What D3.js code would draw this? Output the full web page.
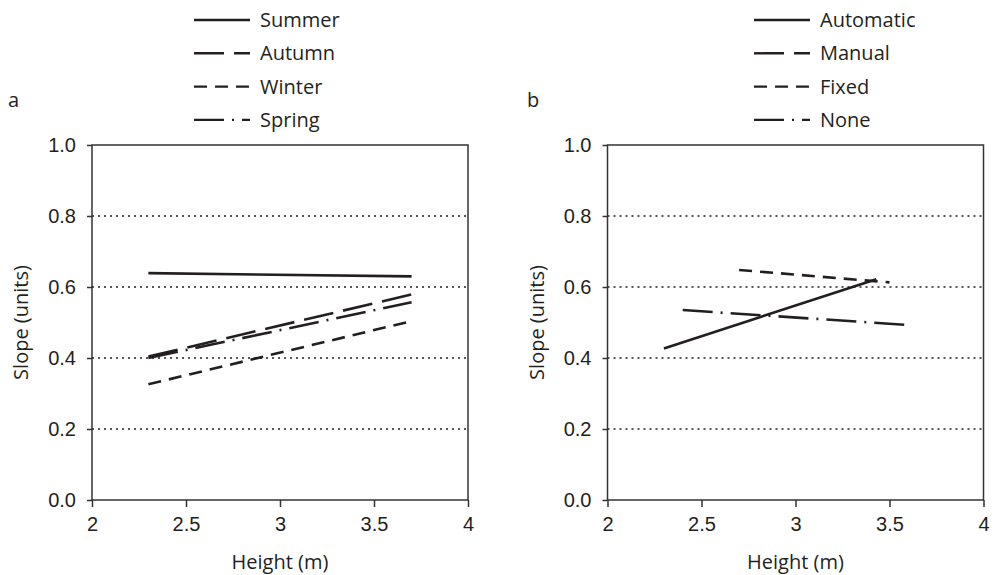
<!DOCTYPE html>
<html>
<head>
<meta charset="utf-8">
<script src="https://cdn.jsdelivr.net/npm/d3@7"></script>
<style>
  body { margin: 0; background: #fff; }
  svg { font-family: "Open Sans", sans-serif; }
</style>
</head>
<body>
<svg width="994" height="575"></svg>
<script>
// values
const seasons = ["Summer", "Autumn", "Winter", "Spring"];
const summer = [[2.3, 0.639], [3.7, 0.630]];
const autumn = [[2.3, 0.404], [3.7, 0.579]];
const winter = [[2.3, 0.326], [3.7, 0.504]];
const spring = [[2.3, 0.400], [3.7, 0.557]];

const modes = ["Automatic", "Manual", "Fixed", "None"];
const automatic = [[2.3, 0.427], [3.43, 0.622]];
const manual = [];
const fixed = [[2.7, 0.648], [3.5, 0.613]];
const none = [[2.4, 0.535], [3.6, 0.493]];

const xTicks = [2, 2.5, 3, 3.5, 4];
const yTicks = [0, 0.2, 0.4, 0.6, 0.8, 1.0];
const gridVals = [0.2, 0.4, 0.6, 0.8];

const dashes = [null, "30,10", "13,8", "30,8,2,8"];
const ink = "#231f20";
const fs = "20px";

const svg = d3.select("svg");

function panel(opts) {
  const x = d3.scaleLinear().domain([2, 4]).range([opts.left, opts.left + 376]);
  const y = d3.scaleLinear().domain([0, 1]).range([500, 145]);
  const g = svg.append("g");

  // dotted gridlines
  g.selectAll(".grid").data(gridVals).enter().append("line")
    .attr("x1", x(2)).attr("x2", x(4))
    .attr("y1", d => y(d)).attr("y2", d => y(d))
    .attr("stroke", ink).attr("stroke-width", 1.3)
    .attr("stroke-dasharray", "2,4");

  // frame
  g.append("rect")
    .attr("x", x(2)).attr("y", y(1))
    .attr("width", x(4) - x(2)).attr("height", y(0) - y(1))
    .attr("fill", "none").attr("stroke", "#333").attr("stroke-width", 1.5);

  const xAxis = d3.axisBottom(x).tickValues(xTicks).tickSize(7).tickPadding(10)
    .tickFormat(d3.format("~g"));
  const yAxis = d3.axisLeft(y).tickValues(yTicks).tickSize(5).tickPadding(11)
    .tickFormat(d3.format(".1f"));

  const gx = g.append("g").attr("transform", "translate(0,500)").call(xAxis);
  const gy = g.append("g").attr("transform", "translate(" + x(2) + ",0)").call(yAxis);
  [gx, gy].forEach(a => {
    a.select(".domain").remove();
    a.selectAll("line").attr("stroke", "#333").attr("stroke-width", 1.5);
    a.selectAll("text").attr("fill", ink).style("font-size", fs);
  });

  g.append("text").attr("x", (x(2) + x(4)) / 2).attr("y", 569)
    .attr("text-anchor", "middle").attr("fill", ink).style("font-size", fs)
    .text("Height (m)");
  g.append("text")
    .attr("transform", "translate(" + (opts.left - 64) + "," + y(0.5) + ") rotate(-90)")
    .attr("text-anchor", "middle").attr("fill", ink).style("font-size", fs)
    .text("Slope (units)");

  g.append("text").attr("x", opts.letterX).attr("y", 107)
    .attr("fill", ink).style("font-size", fs).text(opts.letter);

  const line = d3.line().x(d => x(d[0])).y(d => y(d[1]));
  g.selectAll(".series").data(opts.series).enter().append("path")
    .attr("d", d => line(d))
    .attr("fill", "none").attr("stroke", ink).attr("stroke-width", 2.6)
    .attr("stroke-dasharray", (d, i) => dashes[i]);

  // legend
  const lg = g.append("g");
  const rows = lg.selectAll("g").data(opts.names).enter().append("g")
    .attr("transform", (d, i) => "translate(" + opts.legendX + "," + (20 + i * 33.3) + ")");
  rows.append("line").attr("x1", 0).attr("x2", 56)
    .attr("stroke", ink).attr("stroke-width", 2.4)
    .attr("stroke-dasharray", (d, i) => dashes[i]);
  rows.append("text").attr("x", 66).attr("dy", "0.35em")
    .attr("fill", ink).style("font-size", fs).text(d => d);
}

panel({left: 92, letter: "a", letterX: 8, names: seasons,
  series: [summer, autumn, winter, spring], legendX: 194});
panel({left: 607.5, letter: "b", letterX: 527, names: modes,
  series: [automatic, manual, fixed, none], legendX: 754});
</script>
</body>
</html>
